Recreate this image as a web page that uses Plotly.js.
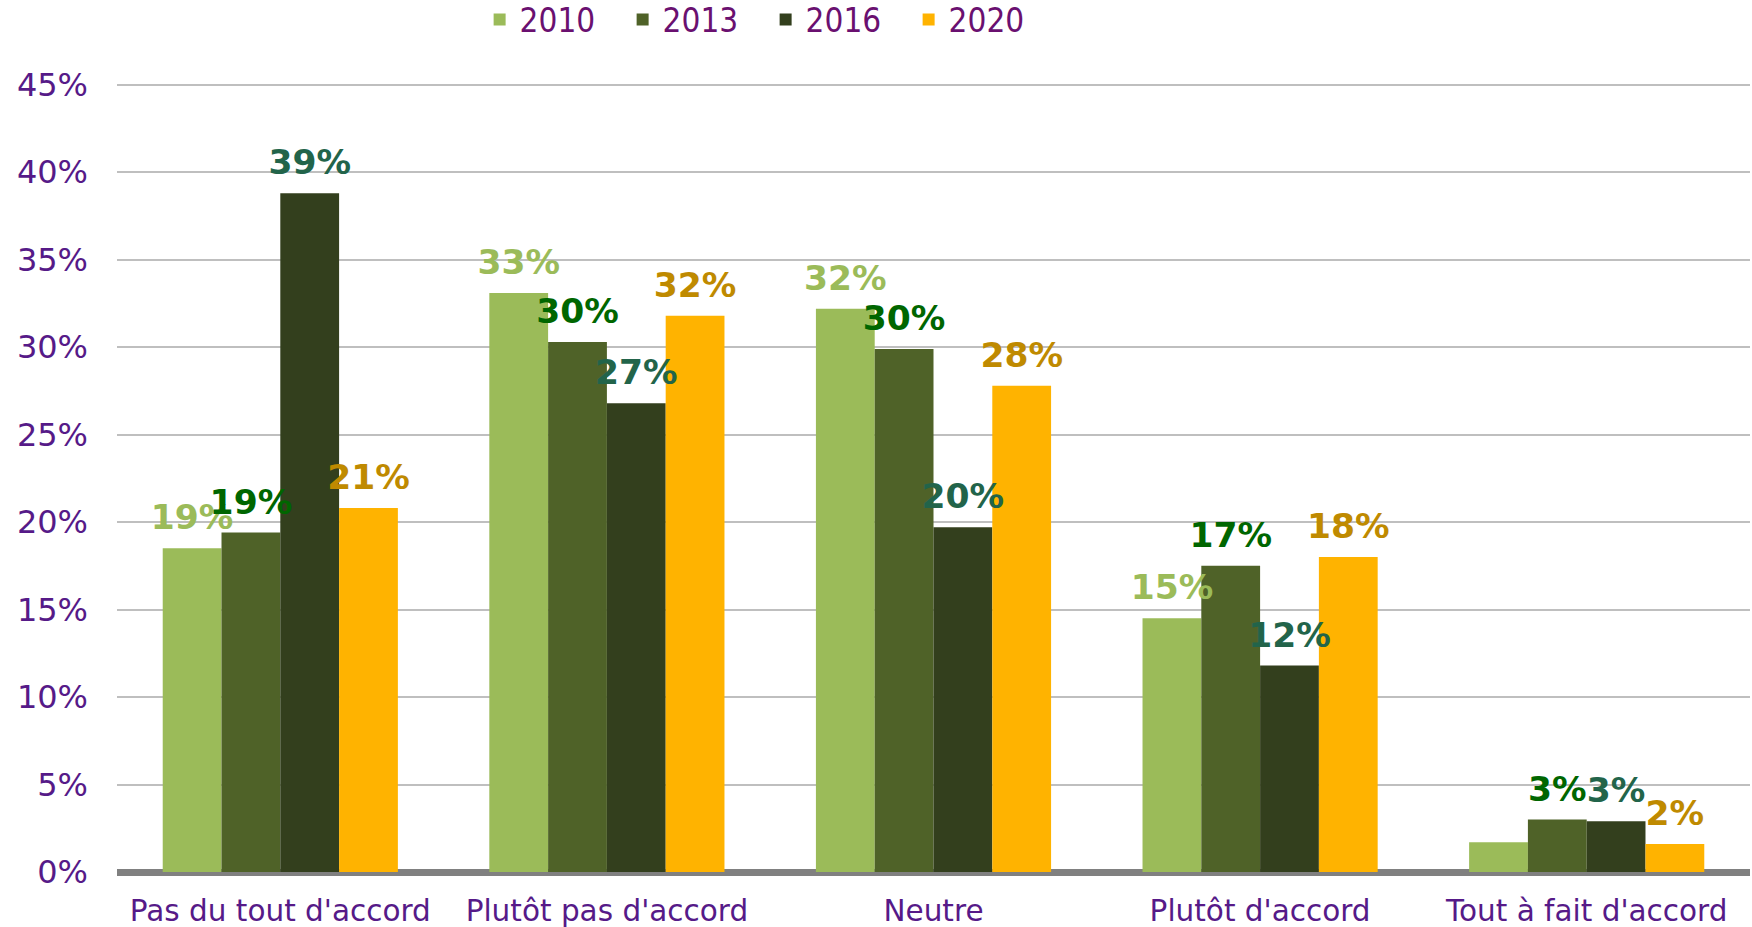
<!DOCTYPE html>
<html>
<head>
<meta charset="utf-8">
<script src="https://cdn.plot.ly/plotly-3.0.1.min.js"></script>
<style>html,body{margin:0;padding:0;background:#fff;}#chart{width:1752px;height:927px;}</style>
</head>
<body>
<div id="chart"></div>
<script>
const categories = ["Pas du tout d'accord", "Plutôt pas d'accord", "Neutre", "Plutôt d'accord", "Tout à fait d'accord"];
const years = ["2010", "2013", "2016", "2020"];
const values2010 = [18.5, 33.1, 32.2, 14.5, 1.7];
const values2013 = [19.4, 30.3, 29.9, 17.5, 3.0];
const values2016 = [38.8, 26.8, 19.7, 11.8, 2.9];
const values2020 = [20.8, 31.8, 27.8, 18.0, 1.6];
const labels2010 = ["19%", "33%", "32%", "15%", ""];
const labels2013 = ["19%", "30%", "30%", "17%", "3%"];
const labels2016 = ["39%", "27%", "20%", "12%", "3%"];
const labels2020 = ["21%", "32%", "28%", "18%", "2%"];
const yTicks = [0, 5, 10, 15, 20, 25, 30, 35, 40, 45];
const yTickText = ["0%", "5%", "10%", "15%", "20%", "25%", "30%", "35%", "40%", "45%"];

const barColors = ["#9BBB59", "#4F6228", "#333F1D", "#FFB300"];
const labelColors = ["#9BBB59", "#006600", "#22644A", "#BF8A00"];
const allValues = [values2010, values2013, values2016, values2020];
const allLabels = [labels2010, labels2013, labels2016, labels2020];

const yMax = 45.5;
const labelLift = 0.45; // lifts data labels a few pixels above the bar tops

// visible bars
const barTraces = years.map((y, i) => ({
  type: 'bar',
  name: y,
  x: categories,
  y: allValues[i],
  marker: {color: barColors[i], line: {width: 0}},
  hoverinfo: 'none'
}));

// transparent twin bars carrying the data labels, on an overlaid axis
const labelTraces = years.map((y, i) => ({
  type: 'bar',
  name: y,
  x: categories,
  y: allValues[i],
  yaxis: 'y2',
  showlegend: false,
  text: allLabels[i],
  textposition: 'outside',
  constraintext: 'none',
  cliponaxis: false,
  textfont: {family: 'DejaVu Sans', size: 34.5, color: labelColors[i], weight: 'bold'},
  marker: {color: 'rgba(0,0,0,0)', line: {width: 0}},
  hoverinfo: 'none'
}));

const layout = {
  width: 1752,
  height: 927,
  margin: {l: 117, r: 2, t: 76, b: 55, autoexpand: false},
  paper_bgcolor: '#ffffff',
  plot_bgcolor: '#ffffff',
  barmode: 'group',
  bargap: 0.28,
  bargroupgap: 0,
  showlegend: true,
  legend: {
    orientation: 'h',
    xref: 'container', yref: 'container',
    x: 0.437, xanchor: 'center',
    y: 0.979, yanchor: 'middle',
    font: {family: 'DejaVu Sans Condensed', size: 33, color: '#6A1070'},
    entrywidth: 98, entrywidthmode: 'pixels',
    itemwidth: 30,
    traceorder: 'normal'
  },
  xaxis: {
    type: 'category',
    showgrid: false,
    showline: false,
    ticks: '',
    tickfont: {family: 'DejaVu Sans', size: 29.5, color: '#561A88'},
    ticklabelstandoff: 18
  },
  yaxis: {
    range: [0, yMax],
    tickvals: yTicks,
    ticktext: yTickText,
    showgrid: true,
    gridcolor: '#BFBFBF',
    gridwidth: 2,
    zeroline: true,
    zerolinecolor: '#808080',
    zerolinewidth: 7,
    showline: false,
    ticks: '',
    ticklabelstandoff: 28,
    tickfont: {family: 'DejaVu Sans', size: 32, color: '#561A88'}
  },
  yaxis2: {
    overlaying: 'y',
    range: [-labelLift, yMax - labelLift],
    showgrid: false,
    zeroline: false,
    showline: false,
    showticklabels: false,
    ticks: ''
  }
};

Plotly.newPlot('chart', barTraces.concat(labelTraces), layout, {displayModeBar: false, staticPlot: true});
</script>
</body>
</html>
